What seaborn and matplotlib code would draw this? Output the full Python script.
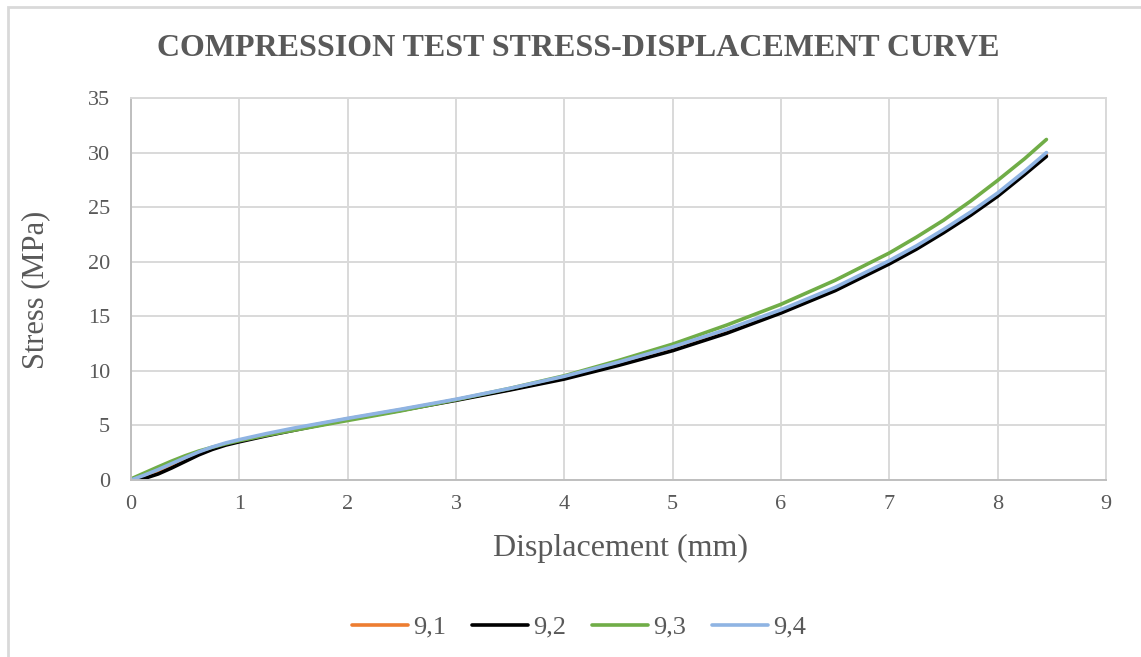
import pandas as pd
import matplotlib
matplotlib.use('Agg')
import matplotlib.pyplot as plt
import seaborn as sns
from matplotlib.patches import Rectangle

# Displacement points (mm)
disp = [0.0, 0.125, 0.25, 0.375, 0.5, 0.625, 0.75, 0.875, 1.0,
        1.25, 1.5, 1.75, 2.0, 2.5, 3.0, 3.5, 4.0, 4.5, 5.0, 5.5, 6.0, 6.5,
        7.0, 7.25, 7.5, 7.75, 8.0, 8.25, 8.45]
# Stress (MPa) per sample
s91 = [0.0, 0.3, 0.75, 1.3, 1.88, 2.45, 2.93, 3.32, 3.62,
       4.17, 4.67, 5.15, 5.6, 6.45, 7.35, 8.3, 9.35, 10.6, 11.95, 13.55, 15.45, 17.5,
       19.95, 21.3, 22.8, 24.4, 26.15, 28.15, 29.8]
s92 = [-0.1, 0.15, 0.55, 1.1, 1.7, 2.3, 2.8, 3.2, 3.5,
       4.05, 4.55, 5.05, 5.55, 6.4, 7.3, 8.25, 9.25, 10.5, 11.85, 13.45, 15.3, 17.35,
       19.8, 21.15, 22.65, 24.25, 26.0, 28.0, 29.65]
s93 = [0.1, 0.65, 1.2, 1.73, 2.22, 2.65, 3.0, 3.32, 3.6,
       4.1, 4.55, 5.0, 5.45, 6.35, 7.35, 8.4, 9.55, 10.95, 12.45, 14.2, 16.1, 18.3,
       20.8, 22.25, 23.8, 25.55, 27.45, 29.45, 31.2]
s94 = [0.0, 0.45, 0.95, 1.5, 2.05, 2.57, 3.02, 3.4, 3.7,
       4.25, 4.75, 5.2, 5.65, 6.5, 7.4, 8.4, 9.5, 10.8, 12.2, 13.8, 15.6, 17.65,
       20.1, 21.45, 22.95, 24.55, 26.3, 28.3, 30.0]
samples = ['9,1', '9,2', '9,3', '9,4']
colors = ['#ed7d31', '#000000', '#70ad47', '#8fb4e3']

frames = []
for name, vals in zip(samples, [s91, s92, s93, s94]):
    frames.append(pd.DataFrame({'disp': disp, 'stress': vals, 'sample': name}))
df = pd.concat(frames, ignore_index=True)

sns.set_theme(style='white')
plt.rcParams['font.family'] = ['Liberation Serif', 'DejaVu Serif']
txt = '#595959'

fig = plt.figure(figsize=(11.41, 6.57), dpi=100)
ax = fig.add_axes([131/1141, 1 - 480/657, 975/1141, 382/657])

sns.lineplot(data=df, x='disp', y='stress', hue='sample', palette=colors,
             sort=False, linewidth=2.6, ax=ax, legend=True)
for ln in ax.lines:
    ln.set_solid_joinstyle('round')
    ln.set_solid_capstyle('round')

ax.set_xlim(0, 9)
ax.set_ylim(0, 35)
ax.set_xticks(range(0, 10))
ax.set_yticks(range(0, 36, 5))
ax.grid(True, color='#d9d9d9', linewidth=1.4)
ax.set_axisbelow(True)
for side in ['top', 'right']:
    ax.spines[side].set_color('#d9d9d9')
    ax.spines[side].set_linewidth(1.4)
for side in ['left', 'bottom']:
    ax.spines[side].set_color('#bfbfbf')
    ax.spines[side].set_linewidth(1.4)
ax.tick_params(axis='both', labelsize=16, colors=txt, length=0)
ax.tick_params(axis='y', pad=15)
ax.tick_params(axis='x', pad=11)

ax.set_xlabel('')
ax.set_ylabel('')
fig.text(620/1141, 1 - 548/657, 'Displacement (mm)', ha='center', va='center',
         fontsize=23, color=txt)
fig.text(36/1141, 1 - 290/657, 'Stress (MPa)', ha='center', va='center',
         rotation=90, fontsize=22, color=txt)

fig.text(578/1141, 1 - 48/657, 'COMPRESSION TEST STRESS-DISPLACEMENT CURVE',
         ha='center', va='center', fontsize=23, fontweight='bold', color=txt)

handles, labels = ax.get_legend_handles_labels()
ax.legend(handles, labels, loc='center', bbox_to_anchor=(579/1141, 1 - 627/657),
          bbox_transform=fig.transFigure, ncol=4, frameon=False, fontsize=19,
          handlelength=2.1, handletextpad=0.2, columnspacing=1.0,
          labelcolor=txt)

# chart border (only top and left visible in the crop)
fig.patches.append(Rectangle((8/1141, -0.1), 1.2, 1 - 7/657 + 0.1,
                             transform=fig.transFigure, fill=False,
                             edgecolor='#d9d9d9', linewidth=2))

fig.savefig('out.png', dpi=100)
plt.close(fig)
